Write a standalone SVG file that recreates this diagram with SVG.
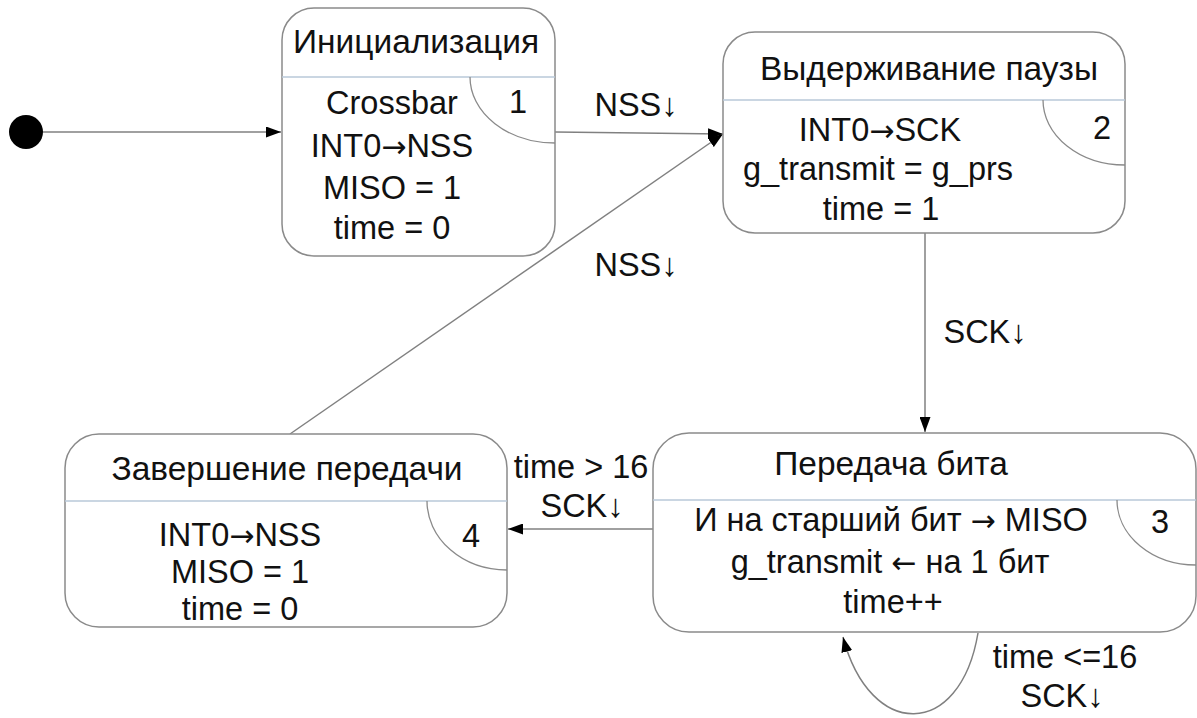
<svg xmlns="http://www.w3.org/2000/svg" width="1197" height="718" viewBox="0 0 1197 718">
<style>
.box{fill:#fff;stroke:#8a8a8a;stroke-width:1.5}
.div{stroke:#b9c9d9;stroke-width:1.5;fill:none}
.arc{stroke:#8a8a8a;stroke-width:1.3;fill:none}
.t{font-family:"Liberation Sans",Arial,sans-serif;font-size:32.5px;fill:#111;text-anchor:middle}
.h{font-size:33.5px}
.ar{font-family:"DejaVu Sans",sans-serif;font-size:30px}
.c{stroke:#808080;stroke-width:1.5;fill:none}
</style>
<defs>
<marker id="ah" viewBox="0 0 15 11" refX="15" refY="5.5" markerWidth="15" markerHeight="11" markerUnits="userSpaceOnUse" orient="auto">
<path d="M0,0 L15,5.5 L0,11 z" fill="#000"/>
</marker>
</defs>
<g id="connectors">
<circle cx="26" cy="132" r="17" fill="#000"/>
<line class="c" x1="43" y1="132" x2="281" y2="132" marker-end="url(#ah)"/>
<line class="c" x1="555" y1="132" x2="723" y2="134" marker-end="url(#ah)"/>
<line class="c" x1="290" y1="434" x2="723" y2="134" marker-end="url(#ah)"/>
<line class="c" x1="925" y1="233" x2="925" y2="432" marker-end="url(#ah)"/>
<line class="c" x1="653" y1="529" x2="508" y2="529" marker-end="url(#ah)"/>
<path class="c" d="M978,633 C960,740 870,740 843,637" marker-end="url(#ah)"/>
<text class="t" x="636" y="116">NSS↓</text>
<text class="t" x="636" y="276">NSS↓</text>
<text class="t" x="985" y="343">SCK↓</text>
<text class="t" x="581" y="478">time &gt; 16</text>
<text class="t" x="582" y="517">SCK↓</text>
<text class="t" x="1065" y="668">time &lt;=16</text>
<text class="t" x="1062" y="707">SCK↓</text>
</g>
<g id="node1">
<rect class="box" x="282" y="8" width="273" height="248" rx="32"/>
<line class="div" x1="282" y1="77" x2="555" y2="77"/>
<path class="arc" d="M470,77 A85,66 0 0 0 555,143"/>
<text class="t h" x="416" y="53">Инициализация</text>
<text class="t" x="518" y="113">1</text>
<text class="t" x="392" y="114">Crossbar</text>
<text class="t" x="392" y="157">INT0<tspan class="ar">→</tspan>NSS</text>
<text class="t" x="392" y="199">MISO = 1</text>
<text class="t" x="392" y="239">time = 0</text>
</g>
<g id="node2">
<rect class="box" x="723" y="32" width="402" height="201" rx="32"/>
<line class="div" x1="723" y1="100" x2="1125" y2="100"/>
<path class="arc" d="M1043,100 A82,65 0 0 0 1125,165"/>
<text class="t h" x="929" y="80">Выдерживание паузы</text>
<text class="t" x="1102" y="139">2</text>
<text class="t" x="880" y="141">INT0<tspan class="ar">→</tspan>SCK</text>
<text class="t" x="878" y="180">g_transmit = g_prs</text>
<text class="t" x="881" y="220">time = 1</text>
</g>
<g id="node3">
<rect class="box" x="653" y="433" width="543" height="199" rx="36"/>
<line class="div" x1="653" y1="500" x2="1196" y2="500"/>
<path class="arc" d="M1117,500 A79,65 0 0 0 1196,565"/>
<text class="t h" x="891" y="475">Передача бита</text>
<text class="t" x="1160" y="533">3</text>
<text class="t" x="891" y="531">И на старший бит <tspan class="ar">→</tspan> MISO</text>
<text class="t" x="890" y="573">g_transmit <tspan class="ar">←</tspan> на 1 бит</text>
<text class="t" x="893" y="613">time++</text>
</g>
<g id="node4">
<rect class="box" x="65" y="434" width="442" height="193" rx="34"/>
<line class="div" x1="65" y1="501" x2="507" y2="501"/>
<path class="arc" d="M427,501 A80,69 0 0 0 507,570"/>
<text class="t h" x="287" y="480">Завершение передачи</text>
<text class="t" x="471" y="547">4</text>
<text class="t" x="240" y="546">INT0<tspan class="ar">→</tspan>NSS</text>
<text class="t" x="240" y="583">MISO = 1</text>
<text class="t" x="240" y="620">time = 0</text>
</g>
</svg>
